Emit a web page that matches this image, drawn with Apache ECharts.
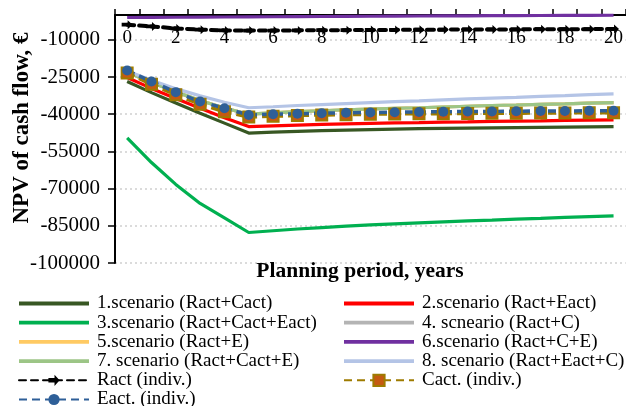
<!DOCTYPE html>
<html>
<head>
<meta charset="utf-8">
<script src="https://cdn.jsdelivr.net/npm/echarts@6/dist/echarts.min.js"></script>
<style>html,body{margin:0;padding:0;background:#fff;}#c{width:626px;height:406px;}</style>
</head>
<body>
<div id="c"></div>
<script>
var years = ['0','1','2','3','4','5','6','7','8','9','10','11','12','13','14','15','16','17','18','19','20'];
var yTicks = [-100000,-85000,-70000,-55000,-40000,-25000,-10000];

var s1 = [-26800,-31300,-35500,-39600,-43600,-47600,-47200,-46900,-46600,-46400,-46200,-46000,-45800,-45700,-45600,-45500,-45400,-45300,-45200,-45100,-45000];
var s2 = [-25200,-29600,-33700,-37600,-41400,-45000,-44700,-44400,-44100,-43900,-43700,-43500,-43400,-43200,-43100,-42900,-42800,-42700,-42500,-42400,-42300];
var s3 = [-49500,-59500,-68300,-76000,-81800,-87700,-87000,-86300,-85700,-85100,-84600,-84200,-83800,-83400,-83000,-82700,-82300,-82000,-81600,-81300,-81000];
var s4 = [-23000,-27200,-31000,-34500,-37500,-40000,-39500,-39000,-38600,-38200,-37900,-37600,-37400,-37100,-36800,-36500,-36300,-36000,-35800,-35500,-35300];
var s5 = [-23000,-27200,-31000,-34500,-37500,-40000,-39500,-39000,-38600,-38200,-37900,-37600,-37400,-37100,-36800,-36500,-36300,-36000,-35800,-35500,-35300];
var s6 = [-1000,-950,-900,-850,-800,-750,-700,-650,-600,-550,-500,-450,-400,-360,-320,-280,-240,-200,-160,-120,-100];
var s7 = [-23000,-27200,-31000,-34500,-37500,-40000,-39500,-39000,-38600,-38200,-37900,-37600,-37400,-37100,-36800,-36500,-36300,-36000,-35800,-35500,-35300];
var s8 = [-22600,-26300,-29700,-32600,-35200,-37400,-37000,-36500,-36100,-35700,-35300,-34900,-34600,-34200,-33800,-33500,-33200,-32800,-32500,-32100,-31800];
var ract = [-3900,-4600,-5400,-5900,-6200,-6300,-6300,-6200,-6100,-6100,-6000,-6000,-5900,-5900,-5800,-5800,-5800,-5700,-5700,-5700,-5600];
var cact = [-23400,-27900,-32200,-36000,-39000,-41100,-40800,-40500,-40300,-40200,-40000,-39900,-39800,-39800,-39700,-39600,-39600,-39500,-39500,-39400,-39400];
var eact = [-22400,-26800,-31100,-34900,-37600,-40300,-40000,-39800,-39600,-39400,-39300,-39200,-39100,-39000,-38900,-38900,-38800,-38700,-38700,-38600,-38600];

var names = ['1.scenario (Ract+Cact)','2.scenario (Ract+Eact)','3.scenario (Ract+Cact+Eact)','4. scneario (Ract+C)',
  '5.scenario (Ract+E)','6.scenario (Ract+C+E)','7. scenario (Ract+Cact+E)','8. scenario (Ract+Eact+C)',
  'Ract (indiv.)','Cact. (indiv.)','Eact. (indiv.)'];

var FONT = "'Liberation Serif','Times New Roman',serif";
function solid(name, data, color) {
  return {name: name, type: 'line', data: data, symbol: 'none', showSymbol: false, clip: false,
    lineStyle: {color: color, width: 3.2}, itemStyle: {color: color}};
}
var arrow = 'path://M0,3 L6,3 L6,0 L11,5 L6,10 L6,7 L0,7 Z';
var bar = 'path://M0,0 L70,0 L70,3.8 L0,3.8 Z';
function li(n) { return {name: n, icon: bar}; }
var legendText = {fontFamily: FONT, fontSize: 19, color: '#000', lineHeight: 19, padding: [0, 0, 0, 3]};

var chart = echarts.init(document.getElementById('c'));
chart.setOption({
  animation: false,
  backgroundColor: '#fff',
  grid: {left: 115, top: 15, width: 513, height: 248, containLabel: false},
  xAxis: {
    type: 'category', data: years, position: 'top', boundaryGap: true,
    axisLine: {show: true, lineStyle: {color: '#000', width: 2}},
    axisTick: {show: true, inside: false, length: 6, interval: 0, lineStyle: {color: '#000', width: 1.5}},
    axisLabel: {inside: true, interval: 1, margin: 14, color: '#000', fontFamily: FONT, fontSize: 19},
    splitLine: {show: false}
  },
  yAxis: {
    type: 'value', min: -100000, max: 0,
    axisLine: {show: true, lineStyle: {color: '#000', width: 2}},
    axisTick: {show: true, length: 7, customValues: yTicks, lineStyle: {color: '#000', width: 1.5}},
    axisLabel: {customValues: yTicks, margin: 15, color: '#000', fontFamily: FONT, fontSize: 21,
      formatter: function (v) { return String(v); }},
    splitLine: {show: true, lineStyle: {color: '#cfcfcf', width: 1.5, type: [2, 3]}}
  },
  title: {text: 'Planning period, years', left: 355, top: 255, textAlign: 'center',
    textStyle: {fontFamily: FONT, fontSize: 21.5, fontWeight: 'bold', color: '#000'}},
  graphic: [{type: 'text', x: 22, y: 128, rotation: Math.PI / 2,
    style: {text: 'NPV of cash flow, €', font: 'bold 23px ' + FONT, fill: '#000', align: 'center', verticalAlign: 'middle'}}],
  legend: [
    {orient: 'vertical', left: 18, top: 294, height: 160, padding: 0, itemWidth: 70, itemHeight: 14, itemGap: 0.2,
      data: [li(names[0]), li(names[2]), li(names[4]), li(names[6]), names[8], names[10]],
      textStyle: legendText},
    {orient: 'vertical', left: 343, top: 294, height: 160, padding: 0, itemWidth: 70, itemHeight: 14, itemGap: 0.2,
      data: [li(names[1]), li(names[3]), li(names[5]), li(names[7]), names[9]],
      textStyle: legendText}
  ],
  series: [
    solid(names[0], s1, '#385723'),
    solid(names[1], s2, '#ff0000'),
    solid(names[2], s3, '#00b050'),
    solid(names[3], s4, '#b4b4b4'),
    solid(names[4], s5, '#ffca63'),
    solid(names[5], s6, '#7030a0'),
    solid(names[6], s7, '#9cc586'),
    solid(names[7], s8, '#b4c4e6'),
    {name: names[8], type: 'line', data: ract, clip: false, symbol: arrow, symbolSize: [11, 9], showSymbol: true,
      lineStyle: {color: '#000', width: 4, type: [7, 5], cap: 'round'}, itemStyle: {color: '#000'}},
    {name: names[9], type: 'line', data: cact, clip: false, symbol: 'rect', symbolSize: 11, showSymbol: true,
      lineStyle: {color: '#9e7b00', width: 3.5, type: [8, 5]}, itemStyle: {color: '#c55a11', borderColor: '#9e7b00', borderWidth: 2}},
    {name: names[10], type: 'line', data: eact, clip: false, symbol: 'circle', symbolSize: 10, showSymbol: true,
      lineStyle: {color: '#2e5f98', width: 3.5, type: [8, 5]}, itemStyle: {color: '#2e5f98'}}
  ]
});
</script>
</body>
</html>
